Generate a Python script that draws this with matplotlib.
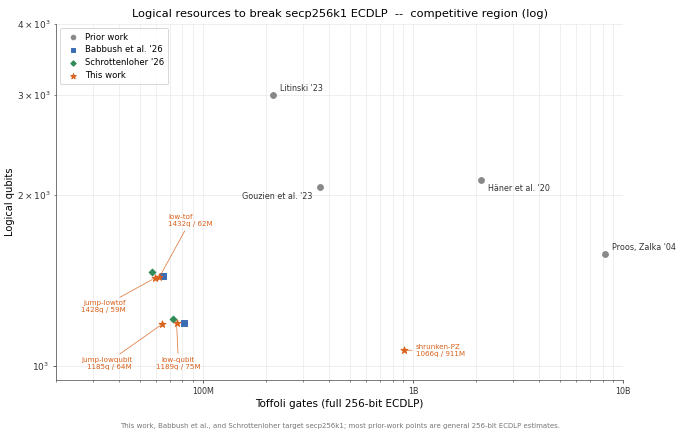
import matplotlib
matplotlib.use("Agg")
import matplotlib.pyplot as plt
from matplotlib.ticker import FixedLocator, FixedFormatter, LogLocator, NullFormatter

# ---------------- data ----------------
prior_names = ["Litinski '23", "Gouzien et al. '23", "Häner et al. '20", "Proos, Zalka '04"]
prior_tof = [2.16e8, 3.6e8, 2.1e9, 8.2e9]
prior_qubits = [3000, 2070, 2124, 1575]

babbush_tof = [6.44e7, 8.1e7]
babbush_qubits = [1440, 1190]

schrott_tof = [5.75e7, 7.2e7]
schrott_qubits = [1465, 1210]

this_names = ["jump-lowtof", "low-tof", "jump-lowqubit", "low-qubit", "shrunken-PZ"]
this_tof = [59e6, 62e6, 64e6, 75e6, 911e6]
this_qubits = [1428, 1432, 1185, 1189, 1066]

xtick_vals = [1e8, 1e9, 1e10]
xtick_labels = ["100M", "1B", "10B"]

# ---------------- styling ----------------
C_GRAY = "#888888"
C_BLUE = "#3a6db3"
C_GREEN = "#2e8b57"
C_ORANGE = "#d9601a"

fig = plt.figure(figsize=(10, 436 / 68), dpi=68)
ax = fig.add_axes([56 / 680, 1 - 380 / 436, (623 - 56) / 680, (380 - 24) / 436])

ax.set_xscale("log")
ax.set_yscale("log")
ax.set_xlim(2e7, 1e10)
ax.set_ylim(945, 4000)

ax.scatter(prior_tof, prior_qubits, s=38, color=C_GRAY, marker="o", zorder=3, label="Prior work")
ax.scatter(babbush_tof, babbush_qubits, s=30, color=C_BLUE, marker="s", zorder=3, label="Babbush et al. '26")
ax.scatter(schrott_tof, schrott_qubits, s=26, color=C_GREEN, marker="D", zorder=3, label="Schrottenloher '26")
ax.scatter(this_tof, this_qubits, s=60, color=C_ORANGE, marker="*", zorder=4, label="This work")

# prior-work labels (offsets in points)
prior_offsets = [(7.4, 6.7, "left"), (-7.8, -10.3, "right"), (7.8, -9.2, "left"), (7.4, 7.0, "left")]
for name, x, y, (dx, dy, ha) in zip(prior_names, prior_tof, prior_qubits, prior_offsets):
    ax.annotate(name, (x, y), xytext=(dx, dy), textcoords="offset points",
                ha=ha, va="center", fontsize=8.5, color="#333333")

# this-work labels
this_offsets = [(-31, -30.2, "right"), (9.2, 60, "left"), (-31.8, -41.6, "right"),
                (2, -42.7, "center"), (12, 0, "left")]
for name, x, y, (dx, dy, ha) in zip(this_names, this_tof, this_qubits, this_offsets):
    ax.annotate(f"{name}\n{y}q / {round(x / 1e6)}M", (x, y), xytext=(dx, dy),
                textcoords="offset points", ha=ha, va="center", fontsize=7.6,
                color=C_ORANGE,
                arrowprops=dict(arrowstyle="-", color=C_ORANGE, lw=0.8, alpha=0.85,
                                shrinkA=2, shrinkB=3))

# axes formatting
ax.xaxis.set_major_locator(FixedLocator(xtick_vals))
ax.xaxis.set_major_formatter(FixedFormatter(xtick_labels))
ax.xaxis.set_minor_locator(LogLocator(base=10, subs=range(2, 10), numticks=20))
ax.xaxis.set_minor_formatter(NullFormatter())

ax.grid(True, which="both", color="#ebebeb", linewidth=0.8, zorder=0)
ax.set_axisbelow(True)
for side in ["top", "right"]:
    ax.spines[side].set_visible(False)
for side in ["left", "bottom"]:
    ax.spines[side].set_color("#555555")
ax.tick_params(axis="x", which="both", labelsize=8.5, colors="#333333")
ax.tick_params(axis="y", which="both", labelsize=9.5, colors="#333333")

ax.set_xlabel("Toffoli gates (full 256-bit ECDLP)", fontsize=11)
ax.set_ylabel("Logical qubits", fontsize=10.5, labelpad=2)
ax.set_title("Logical resources to break secp256k1 ECDLP  --  competitive region (log)",
             fontsize=12, pad=7)

leg = ax.legend(loc="upper left", fontsize=9, frameon=True, borderpad=0.5,
                handletextpad=0.4, labelspacing=0.45, markerscale=0.8)
leg.get_frame().set_edgecolor("#cccccc")

fig.text(0.5, 1 - 426 / 436,
         "This work, Babbush et al., and Schrottenloher target secp256k1; most prior-work points are general 256-bit ECDLP estimates.",
         ha="center", va="center", fontsize=7.4, color="#777777")

fig.savefig("out.png", dpi=68)
